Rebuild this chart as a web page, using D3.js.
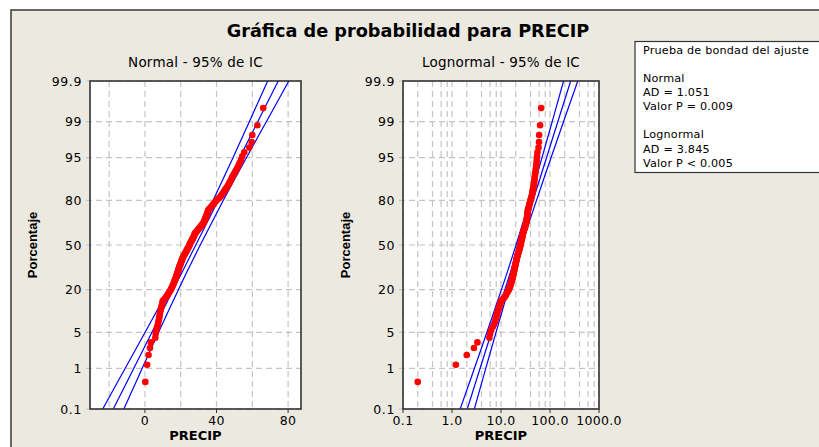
<!DOCTYPE html>
<html>
<head>
<meta charset="utf-8">
<script src="https://cdn.jsdelivr.net/npm/d3@7"></script>
<style>
  body { margin: 0; background: #fff; }
  text { font-family: "DejaVu Sans", Verdana, sans-serif; fill: #000; }
</style>
</head>
<body>
<svg id="chart" width="819" height="447"></svg>
<script>
// datos PRECIP ordenados
var precip = [0.2, 1.2, 2.0, 2.8, 3.3, 5.8, 6.0, 6.3, 6.8, 7.3,
  7.6, 7.9, 8.1, 8.3, 8.5, 8.8, 9.1, 9.4, 9.6, 9.8,
  10.0, 10.8, 11.6, 12.2, 12.7, 13.2, 13.7, 14.2, 14.6, 15.0,
  15.3, 15.6, 15.9, 16.2, 16.4, 16.7, 16.9, 17.2, 17.4, 17.6,
  17.8, 18.0, 18.2, 18.4, 18.6, 18.8, 19.0, 19.1, 19.3, 19.6,
  19.8, 20.0, 20.2, 20.4, 20.6, 20.8, 21.0, 21.2, 21.5, 21.8,
  22.1, 22.4, 22.7, 23.0, 23.3, 23.5, 23.8, 24.1, 24.4, 24.7,
  24.9, 25.1, 25.3, 25.6, 25.9, 26.2, 26.5, 26.8, 27.0, 27.3,
  27.5, 27.7, 27.9, 28.3, 28.7, 29.2, 29.6, 30.1, 30.5, 31.0,
  31.4, 31.9, 32.3, 32.7, 33.0, 33.3, 33.5, 33.7, 34.0, 34.2,
  34.4, 34.7, 34.9, 35.1, 35.3, 35.6, 36.2, 36.8, 37.4, 37.9,
  38.5, 39.1, 39.7, 40.4, 41.3, 42.1, 42.7, 43.3, 43.9, 44.4,
  45.0, 45.7, 46.3, 46.9, 47.4, 48.0, 48.5, 49.1, 49.8, 50.6,
  51.4, 52.2, 52.9, 53.7, 54.4, 55.5, 58.3, 59.6, 60.0, 62.8,
  66.1]

// rectas ajustadas y bandas de confianza 95%
var bandPct = [0.1, 0.5, 1, 2, 5, 10, 20, 30, 50, 70, 80, 90, 95, 98, 99, 99.5, 99.9]
var normFit = [-17.7, -10.0, -6.3, -2.2, 3.9, 9.3, 15.8, 20.6, 28.4, 36.2, 41.0, 47.5, 52.9, 59.0, 63.1, 66.8, 74.5]
var normLow = [-23.6, -15.2, -11.1, -6.6, 0.1, 6.0, 13.0, 18.0, 25.9, 33.6, 38.1, 44.2, 49.2, 54.7, 58.4, 61.7, 68.6]
var normUp = [-11.8, -4.9, -1.6, 2.1, 7.6, 12.6, 18.7, 23.2, 30.9, 38.9, 43.8, 50.8, 56.7, 63.4, 67.9, 72.0, 80.4]
var logFit = [2.05, 3.07, 3.74, 4.63, 6.39, 8.50, 12.0, 15.4, 23.3, 35.2, 45.1, 63.8, 84.9, 116.9, 144.9, 176.2, 264.2]
var logLow = [1.47, 2.30, 2.86, 3.63, 5.16, 7.05, 10.2, 13.3, 20.3, 30.3, 38.4, 52.8, 68.6, 91.6, 110.9, 132.1, 189.2]
var logUp = [2.86, 4.10, 4.89, 5.92, 7.91, 10.3, 14.1, 17.9, 26.7, 40.7, 53.0, 76.9, 105.0, 149.6, 189.2, 235.5, 368.7]

// ejes
var pctTicks = [0.1, 1, 5, 20, 50, 80, 95, 99, 99.9]
var normTicks = [0, 40, 80]
var normGrid = [-20, 0, 20, 40, 60, 80]
var logTicks = [0.1, 1, 10, 100, 1000]
var logTickLabels = ["0.1", "1.0", "10.0", "100.0", "1000.0"]
var logGrid = [0.1, 0.2, 0.4, 0.6, 0.8, 1, 2, 4, 6, 8, 10, 20, 40, 60, 80, 100, 200, 400, 600, 800, 1000]

var legendLines = ["Prueba de bondad del ajuste", "", "Normal", "AD = 1.051", "Valor P = 0.009", "",
  "Lognormal", "AD = 3.845", "Valor P < 0.005"]

// inversa de la normal (Acklam)
function probit(p) {
  var a = [-3.969683028665376e+01, 2.209460984245205e+02, -2.759285104469687e+02, 1.383577518672690e+02, -3.066479806614716e+01, 2.506628277459239e+00]
  var b = [-5.447609879822406e+01, 1.615858368580409e+02, -1.556989798598866e+02, 6.680131188771972e+01, -1.328068155288572e+01]
  var c = [-7.784894002430293e-03, -3.223964580411365e-01, -2.400758277161838e+00, -2.549732539343734e+00, 4.374664141464968e+00, 2.938163982698783e+00]
  var d = [7.784695709041462e-03, 3.224671290700398e-01, 2.445134137142996e+00, 3.754408661907416e+00]
  var q, r
  if (p < 0.02425) {
    q = Math.sqrt(-2 * Math.log(p))
    return (((((c[0]*q+c[1])*q+c[2])*q+c[3])*q+c[4])*q+c[5]) / ((((d[0]*q+d[1])*q+d[2])*q+d[3])*q+1)
  }
  if (p > 1 - 0.02425) {
    q = Math.sqrt(-2 * Math.log(1 - p))
    return -(((((c[0]*q+c[1])*q+c[2])*q+c[3])*q+c[4])*q+c[5]) / ((((d[0]*q+d[1])*q+d[2])*q+d[3])*q+1)
  }
  q = p - 0.5
  r = q * q
  return (((((a[0]*r+a[1])*r+a[2])*r+a[3])*r+a[4])*r+a[5])*q / (((((b[0]*r+b[1])*r+b[2])*r+b[3])*r+b[4])*r+1)
}

var svg = d3.select("#chart")
var n = precip.length

// fondo y marco
svg.append("rect")
  .attr("x", 11).attr("y", 10)
  .attr("width", 840).attr("height", 460)
  .attr("fill", "#ECE9E0")
  .attr("stroke", "#3a3a3a")
  .attr("stroke-width", 1.5)

svg.append("text")
  .attr("x", 408).attr("y", 36.5)
  .attr("text-anchor", "middle")
  .style("font-size", "17.7px")
  .style("font-weight", "bold")
  .text("Gráfica de probabilidad para PRECIP")

var y = d3.scaleLinear()
  .domain([probit(0.001), probit(0.999)])
  .range([409, 81])

function drawPanel(cfg) {
  var x = cfg.x
  var x0 = x.range()[0], x1 = x.range()[1]
  var g = svg.append("g")

  g.append("rect")
    .attr("x", x0).attr("y", 81)
    .attr("width", x1 - x0).attr("height", 328)
    .attr("fill", "#fff")

  g.append("clipPath").attr("id", cfg.id)
    .append("rect")
    .attr("x", x0).attr("y", 81)
    .attr("width", x1 - x0).attr("height", 328)

  // rejilla
  g.selectAll(".vg")
    .data(cfg.grid)
    .enter()
    .append("line")
    .attr("x1", function (d) { return x(d) })
    .attr("x2", function (d) { return x(d) })
    .attr("y1", 81).attr("y2", 409)
    .attr("stroke", "#c4c4c4")
    .attr("stroke-width", 1.2)
    .attr("stroke-dasharray", "6,4")

  g.selectAll(".hg")
    .data(pctTicks)
    .enter()
    .append("line")
    .attr("x1", x0 - 4).attr("x2", x1)
    .attr("y1", function (d) { return y(probit(d / 100)) })
    .attr("y2", function (d) { return y(probit(d / 100)) })
    .attr("stroke", "#c4c4c4")
    .attr("stroke-width", 1.2)
    .attr("stroke-dasharray", "6,4")

  // bandas de confianza
  var bandas = [cfg.low, cfg.fit, cfg.up]
  var line = d3.line()
    .x(function (d) { return x(d[0]) })
    .y(function (d) { return y(probit(d[1] / 100)) })
  g.append("g").attr("clip-path", "url(#" + cfg.id + ")")
    .selectAll("path")
    .data(bandas)
    .enter()
    .append("path")
    .attr("d", function (serie) {
      return line(serie.map(function (v, i) { return [v, bandPct[i]] }))
    })
    .attr("fill", "none")
    .attr("stroke", "#0000ff")
    .attr("stroke-width", 1.2)

  // puntos (rangos medianos)
  g.append("g").attr("clip-path", "url(#" + cfg.id + ")")
    .selectAll("circle")
    .data(precip)
    .enter()
    .append("circle")
    .attr("cx", function (d) { return x(d) })
    .attr("cy", function (d, i) { return y(probit((i + 1 - 0.3) / (n + 0.4))) })
    .attr("r", 3.3)
    .attr("fill", "#ff0000")

  // marco del area
  g.append("rect")
    .attr("x", x0).attr("y", 81)
    .attr("width", x1 - x0).attr("height", 328)
    .attr("fill", "none")
    .attr("stroke", "#333")
    .attr("stroke-width", 1.6)

  g.selectAll(".yl")
    .data(pctTicks)
    .enter()
    .append("text")
    .attr("x", x0 - 8)
    .attr("y", function (d) { return y(probit(d / 100)) })
    .attr("dy", "0.36em")
    .attr("text-anchor", "end")
    .style("font-size", "12.5px")
    .style("letter-spacing", "0.6px")
    .text(function (d) { return d })

  g.selectAll(".xt")
    .data(cfg.ticks)
    .enter()
    .append("line")
    .attr("x1", function (d) { return x(d) })
    .attr("x2", function (d) { return x(d) })
    .attr("y1", 409).attr("y2", 413)
    .attr("stroke", "#333")

  g.selectAll(".xl")
    .data(cfg.ticks)
    .enter()
    .append("text")
    .attr("x", function (d) { return x(d) })
    .attr("y", 425)
    .attr("text-anchor", "middle")
    .style("font-size", "12.5px")
    .style("letter-spacing", "0.3px")
    .text(function (d, i) { return cfg.labels[i] })

  g.append("text")
    .attr("x", (x0 + x1) / 2).attr("y", 439.5)
    .attr("text-anchor", "middle")
    .style("font-size", "13px")
    .style("font-weight", "bold")
    .text("PRECIP")

  g.append("text")
    .attr("transform", "translate(" + cfg.ylabX + ",245) rotate(-90)")
    .attr("text-anchor", "middle")
    .style("font-family", "'Liberation Sans', Arial, sans-serif")
    .style("font-size", "13px")
    .style("font-weight", "bold")
    .text("Porcentaje")

  g.append("text")
    .attr("x", (x0 + x1) / 2).attr("y", 66.5)
    .attr("text-anchor", "middle")
    .style("font-size", "13.5px")
    .style("letter-spacing", "0.2px")
    .text(cfg.subtitle)
}

drawPanel({
  id: "clipNormal",
  x: d3.scaleLinear().domain([-30.7, 87.2]).range([90, 301]),
  grid: normGrid,
  ticks: normTicks,
  labels: normTicks.map(String),
  fit: normFit, low: normLow, up: normUp,
  subtitle: "Normal - 95% de IC",
  ylabX: 36.5
})

drawPanel({
  id: "clipLog",
  x: d3.scaleLog().domain([0.1, 1000]).range([403, 599]),
  grid: logGrid,
  ticks: logTicks,
  labels: logTickLabels,
  fit: logFit, low: logLow, up: logUp,
  subtitle: "Lognormal - 95% de IC",
  ylabX: 350
})

// cuadro de prueba de bondad
var leg = svg.append("g")
leg.append("rect")
  .attr("x", 635).attr("y", 41.5)
  .attr("width", 200).attr("height", 131)
  .attr("fill", "#fff")
  .attr("stroke", "#333")
  .attr("stroke-width", 1.2)

leg.selectAll("text")
  .data(legendLines)
  .enter()
  .append("text")
  .attr("x", 643)
  .attr("y", function (d, i) { return 53.5 + i * 14.15 })
  .style("font-size", "11.2px")
  .style("letter-spacing", "0.2px")
  .text(function (d) { return d })
</script>
</body>
</html>
